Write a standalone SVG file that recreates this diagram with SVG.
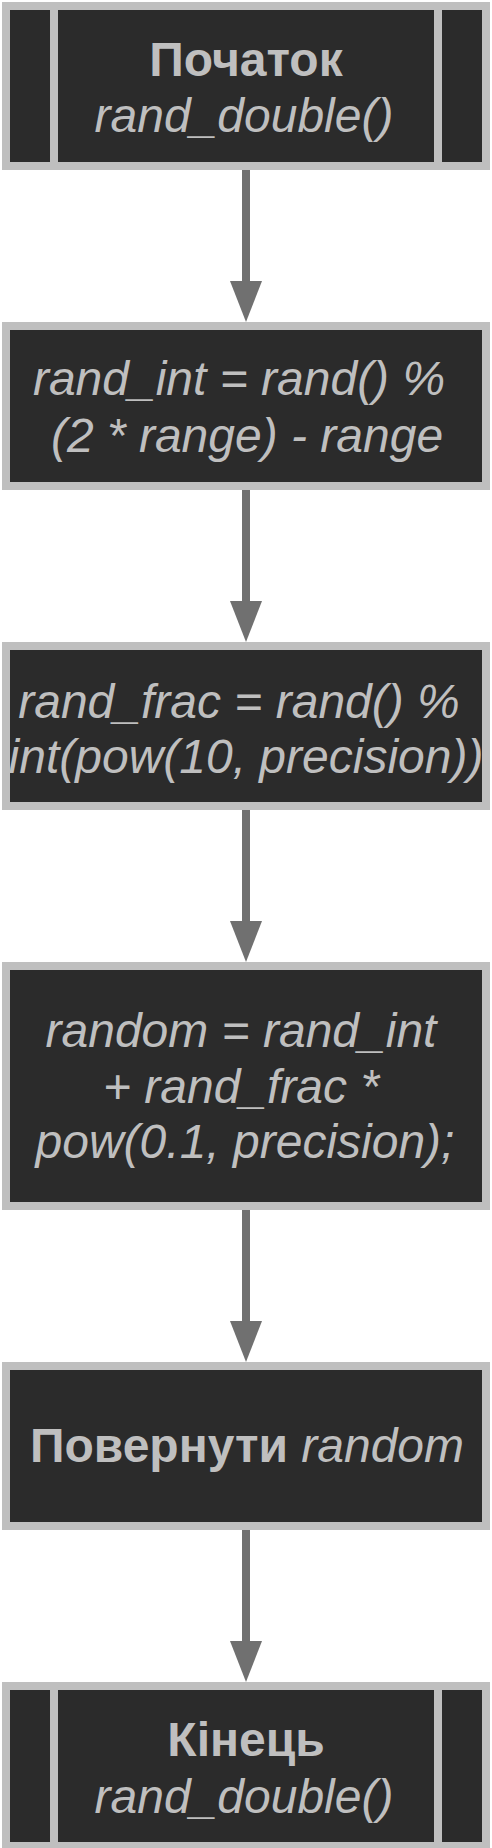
<svg xmlns="http://www.w3.org/2000/svg" width="492" height="1848" viewBox="0 0 492 1848">
<style>
.box{fill:#2b2b2b;stroke:#bfbfbf;stroke-width:8}
.bar{stroke:#bfbfbf;stroke-width:8}
.t{font-family:"Liberation Sans",Arial,sans-serif;font-size:48px;fill:#bfbfbf;text-anchor:middle}
.b{font-weight:bold}
.i{font-style:italic}
.edge{stroke:#707070;stroke-width:8;fill:none}
</style>
<defs>
<marker id="arr" viewBox="0 0 41 32" refX="9" refY="16" markerWidth="41" markerHeight="32" markerUnits="userSpaceOnUse" orient="auto">
<path d="M0,0 L41,16 L0,32 Z" fill="#707070"/>
</marker>
</defs>
<g id="connectors">
<line class="edge" x1="246" y1="170" x2="246" y2="290" marker-end="url(#arr)"/>
<line class="edge" x1="246" y1="490" x2="246" y2="610" marker-end="url(#arr)"/>
<line class="edge" x1="246" y1="810" x2="246" y2="930" marker-end="url(#arr)"/>
<line class="edge" x1="246" y1="1210" x2="246" y2="1330" marker-end="url(#arr)"/>
<line class="edge" x1="246" y1="1530" x2="246" y2="1650" marker-end="url(#arr)"/>
</g>
<g id="start">
<rect class="box" x="6" y="6" width="480" height="160"/>
<line class="bar" x1="54" y1="6" x2="54" y2="166"/>
<line class="bar" x1="438" y1="6" x2="438" y2="166"/>
<text class="t b" x="246" y="76">Початок</text>
<text class="t i" x="244" y="132">rand_double()</text>
</g>
<g id="randint">
<rect class="box" x="6" y="326" width="480" height="160"/>
<text class="t i" x="239" y="395">rand_int = rand() %</text>
<text class="t i" x="247" y="452">(2 * range) - range</text>
</g>
<g id="randfrac">
<rect class="box" x="6" y="646" width="480" height="160"/>
<text class="t i" x="239" y="718">rand_frac = rand() %</text>
<text class="t i" x="246" y="773">int(pow(10, precision))</text>
</g>
<g id="random">
<rect class="box" x="6" y="966" width="480" height="240"/>
<text class="t i" x="241" y="1047">random = rand_int</text>
<text class="t i" x="241" y="1103">+ rand_frac *</text>
<text class="t i" x="245" y="1158">pow(0.1, precision);</text>
</g>
<g id="return">
<rect class="box" x="6" y="1366" width="480" height="160"/>
<text class="t" x="247" y="1462"><tspan class="b">Повернути</tspan><tspan class="i"> random</tspan></text>
</g>
<g id="end">
<rect class="box" x="6" y="1686" width="480" height="160"/>
<line class="bar" x1="54" y1="1686" x2="54" y2="1846"/>
<line class="bar" x1="438" y1="1686" x2="438" y2="1846"/>
<text class="t b" x="246" y="1756">Кінець</text>
<text class="t i" x="244" y="1813">rand_double()</text>
</g>
</svg>
